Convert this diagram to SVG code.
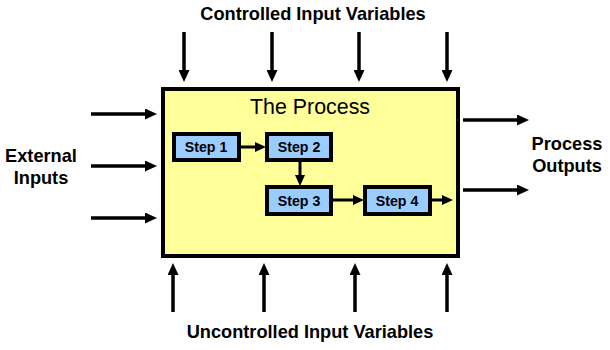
<svg xmlns="http://www.w3.org/2000/svg" width="610" height="350" viewBox="0 0 610 350">
<style>
.lbl{font-family:"Liberation Sans",Arial,sans-serif;font-weight:bold;font-size:18.2px;fill:#000;text-anchor:middle}
.step rect{fill:#99ccff;stroke:#000;stroke-width:4}
.step text{font-family:"Liberation Sans",Arial,sans-serif;font-weight:bold;font-size:14.2px;fill:#000;text-anchor:middle}
.big{stroke:#000;stroke-width:3.5;fill:none;marker-end:url(#ah)}
.sm{stroke:#000;stroke-width:3;fill:none;marker-end:url(#as)}
</style>
<defs>
<marker id="ah" markerUnits="userSpaceOnUse" viewBox="0 0 12 11" refX="6" refY="5.5" markerWidth="12" markerHeight="11" orient="auto"><path d="M0,0 L12,5.5 L0,11 z" fill="#000"/></marker>
<marker id="as" markerUnits="userSpaceOnUse" viewBox="0 0 11 10" refX="5" refY="5" markerWidth="11" markerHeight="10" orient="auto"><path d="M0,0 L11,5 L0,10 z" fill="#000"/></marker>
</defs>
<rect width="610" height="350" fill="#fff"/>
<g id="process">
<rect x="163" y="89" width="295" height="167" fill="#ffff99" stroke="#000" stroke-width="4"/>
<text x="310" y="114" font-family="'Liberation Sans',Arial,sans-serif" font-size="21.4px" text-anchor="middle" fill="#000">The Process</text>
</g>
<g id="step1" class="step"><rect x="174" y="134" width="65" height="26"/><text x="206" y="152">Step 1</text></g>
<g id="step2" class="step"><rect x="267" y="134" width="64" height="26"/><text x="299" y="152">Step 2</text></g>
<g id="step3" class="step"><rect x="267" y="187" width="64" height="27"/><text x="299" y="206">Step 3</text></g>
<g id="step4" class="step"><rect x="365" y="187" width="65" height="27"/><text x="397" y="206">Step 4</text></g>
<g id="labels">
<text class="lbl" x="313" y="20">Controlled Input Variables</text>
<text class="lbl" x="310" y="338">Uncontrolled Input Variables</text>
<text class="lbl" x="41" y="162">External</text>
<text class="lbl" x="41" y="184">Inputs</text>
<text class="lbl" x="567" y="150">Process</text>
<text class="lbl" x="567" y="172">Outputs</text>
</g>
<g id="connectors">
<line class="big" x1="184" y1="32" x2="184" y2="76"/>
<line class="big" x1="272" y1="32" x2="272" y2="76"/>
<line class="big" x1="359" y1="32" x2="359" y2="76"/>
<line class="big" x1="447" y1="32" x2="447" y2="76"/>
<line class="big" x1="173" y1="312" x2="173" y2="269"/>
<line class="big" x1="264" y1="312" x2="264" y2="269"/>
<line class="big" x1="355" y1="312" x2="355" y2="269"/>
<line class="big" x1="447" y1="312" x2="447" y2="269"/>
<line class="big" x1="91" y1="114" x2="151" y2="114"/>
<line class="big" x1="91" y1="166" x2="151" y2="166"/>
<line class="big" x1="91" y1="218" x2="151" y2="218"/>
<line class="big" x1="463" y1="120" x2="523" y2="120"/>
<line class="big" x1="463" y1="190" x2="523" y2="190"/>
<line class="sm" x1="241" y1="147" x2="260" y2="147"/>
<line class="sm" x1="300" y1="162" x2="300" y2="180"/>
<line class="sm" x1="333" y1="200" x2="358" y2="200"/>
<line class="sm" x1="432" y1="200" x2="447" y2="200"/>
</g>
</svg>
